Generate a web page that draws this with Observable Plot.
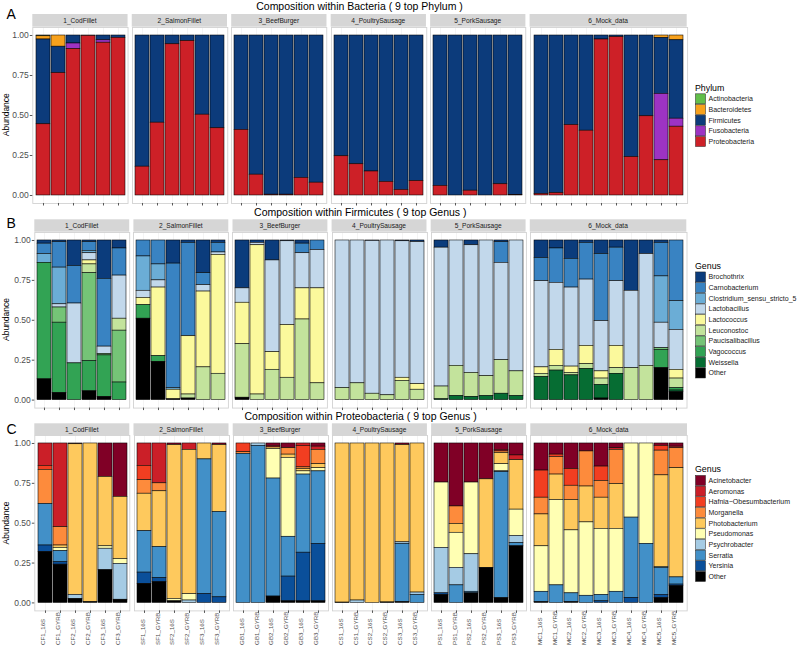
<!DOCTYPE html>
<html><head><meta charset="utf-8">
<script src="https://cdn.jsdelivr.net/npm/d3@7"></script>
<script src="https://cdn.jsdelivr.net/npm/@observablehq/plot@0.6"></script>
<style>
body{margin:0;background:#fff;font-family:"Liberation Sans",Arial,sans-serif;}
#root{position:relative;width:800px;height:656px;overflow:hidden;background:#fff;}
#root svg{position:absolute;}
</style></head>
<body><div id="root"></div>
<script>
// ---------- categories ----------
const groups = ["1_CodFillet","2_SalmonFillet","3_BeefBurger","4_PoultrySausage","5_PorkSausage","6_Mock_data"];
const codFillet = ["CF1_16S","CF1_GYRB","CF2_16S","CF2_GYRB","CF3_16S","CF3_GYRB"];
const salmonFillet = ["SF1_16S","SF1_GYRB","SF2_16S","SF2_GYRB","SF3_16S","SF3_GYRB"];
const beefBurger = ["GB1_16S","GB1_GYRB","GB2_16S","GB2_GYRB","GB3_16S","GB3_GYRB"];
const poultrySausage = ["CS1_16S","CS1_GYRB","CS2_16S","CS2_GYRB","CS3_16S","CS3_GYRB"];
const porkSausage = ["PS1_16S","PS1_GYRB","PS2_16S","PS2_GYRB","PS3_16S","PS3_GYRB"];
const mockData = ["MC1_16S","MC1_GYRB","MC2_16S","MC2_GYRB","MC3_16S","MC3_GYRB","MC4_16S","MC4_GYRB","MC5_16S","MC5_GYRB"];
const groupSamples = [codFillet, salmonFillet, beefBurger, poultrySausage, porkSausage, mockData];
const samples = groupSamples.flat();
const yTicks = [0, 0.25, 0.5, 0.75, 1];

// ---------- Panel A: phyla (legend order) ----------
const phyla = ["Actinobacteria","Bacteroidetes","Firmicutes","Fusobacteria","Proteobacteria"];
const phylumColors = ["#62be4a","#f7a11c","#0c3b7b","#9d33c3","#cd2027"];
const bacteriaShares = [
  [0.005,0.02,0.53,0,0.445],[0,0.07,0.165,0,0.765],[0,0,0.05,0.035,0.915],[0,0,0.002,0,0.998],[0,0,0.03,0.015,0.955],[0,0,0.015,0,0.985],
  [0,0,0.82,0,0.18],[0,0,0.545,0,0.455],[0,0,0.055,0,0.945],[0,0,0.035,0,0.965],[0,0,0.495,0,0.505],[0,0,0.58,0,0.42],
  [0,0,0.59,0,0.41],[0,0,0.87,0,0.13],[0,0,0.995,0,0.005],[0,0,0.995,0,0.005],[0,0,0.89,0,0.11],[0,0,0.92,0,0.08],
  [0,0,0.755,0,0.245],[0,0,0.805,0,0.195],[0,0,0.85,0,0.15],[0,0,0.915,0,0.085],[0,0,0.965,0,0.035],[0,0,0.91,0,0.09],
  [0,0,0.94,0,0.06],[0,0,1,0,0],[0,0,0.97,0,0.03],[0,0,1,0,0],[0,0,0.93,0,0.07],[0,0,0.997,0,0.003],
  [0,0,0.99,0,0.01],[0,0,0.985,0,0.015],[0,0,0.56,0,0.44],[0,0,0.595,0,0.405],[0,0,0.025,0,0.975],[0,0,0.01,0,0.99],
  [0,0,0.76,0,0.24],[0,0,0.505,0,0.495],[0,0.015,0.35,0.415,0.22],[0,0.03,0.49,0.05,0.43]
];

// ---------- Panel B: Firmicutes genera (legend order) ----------
const firmGenera = ["Brochothrix","Carnobacterium","Clostridium_sensu_stricto_5","Lactobacillus","Lactococcus","Leuconostoc","Paucisalibacillus","Vagococcus","Weissella","Other"];
const firmColors = ["#0b3c7c","#3983c2","#6badd6","#c2d8eb","#fbf99c","#c3e39c","#75c477","#32a354","#066d33","#000000"];
const firmicutesShares = [
  [0.02,0.065,0.055,0,0,0,0,0.73,0,0.13],
  [0.01,0.16,0.23,0.02,0,0,0.095,0.44,0,0.045],
  [0.16,0.235,0,0.375,0,0,0,0.23,0,0],
  [0.01,0.055,0.015,0.045,0.025,0.055,0.55,0.19,0,0.055],
  [0.24,0.425,0,0.045,0,0,0.01,0.26,0,0.02],
  [0.05,0.17,0,0.27,0,0.075,0.325,0.11,0,0],
  [0,0.10,0.215,0.045,0.045,0,0,0.085,0,0.51],
  [0,0.15,0.10,0.045,0.43,0,0,0.035,0,0.24],
  [0.145,0.78,0.01,0,0.06,0,0,0,0,0.005],
  [0.015,0.585,0,0,0.365,0.025,0,0,0,0.01],
  [0.205,0.075,0,0.04,0.475,0.205,0,0,0,0],
  [0.015,0.06,0,0.015,0.745,0.165,0,0,0,0],
  [0.30,0,0,0.09,0.26,0.335,0,0,0,0.015],
  [0.015,0,0,0.015,0.935,0.035,0,0,0,0],
  [0.125,0,0,0.575,0.11,0.19,0,0,0,0],
  [0.005,0,0,0.525,0.33,0.14,0,0,0,0],
  [0.02,0.06,0,0.22,0.195,0.505,0,0,0,0],
  [0,0.06,0,0.24,0.595,0.105,0,0,0,0],
  [0,0,0,0.925,0,0.075,0,0,0,0],
  [0,0,0,0.895,0,0.105,0,0,0,0],
  [0.003,0,0,0.957,0,0.04,0,0,0,0],
  [0,0,0,0.97,0,0.03,0,0,0,0],
  [0.005,0,0,0.855,0.02,0.12,0,0,0,0],
  [0.01,0,0,0.89,0.035,0.065,0,0,0,0],
  [0.045,0,0,0.87,0,0.08,0,0,0.005,0],
  [0,0,0,0.785,0,0.19,0,0,0.025,0],
  [0.03,0,0,0.80,0,0.15,0,0,0.02,0],
  [0,0,0,0.85,0,0.125,0,0,0.025,0],
  [0.01,0.13,0,0.61,0,0.21,0,0,0.04,0],
  [0,0,0,0.82,0,0.155,0,0,0.025,0],
  [0.11,0.145,0,0.54,0.04,0.02,0,0,0.145,0],
  [0.05,0.215,0,0.42,0.10,0.03,0,0,0.185,0],
  [0.115,0.18,0,0.495,0.04,0.015,0,0,0.155,0],
  [0.015,0.23,0,0.415,0.115,0.03,0,0,0.195,0],
  [0.085,0.42,0,0.315,0.045,0.04,0,0,0.085,0.01],
  [0.045,0.21,0,0.405,0.14,0.035,0,0,0.165,0],
  [0.315,0,0,0.485,0,0.20,0,0,0,0],
  [0.085,0,0,0.70,0,0.215,0,0,0,0],
  [0.015,0.21,0.29,0.16,0,0,0.01,0.115,0,0.20],
  [0,0.38,0.18,0.25,0.055,0.06,0,0.015,0.01,0.05]
];

// ---------- Panel C: Proteobacteria genera (legend order) ----------
const proteoGenera = ["Acinetobacter","Aeromonas","Hafnia\u2212Obesumbacterium","Morganella","Photobacterium","Pseudomonas","Psychrobacter","Serratia","Yersinia","Other"];
const proteoColors = ["#800026","#cb1f28","#f23e21","#fd8b3c","#fec95d","#ffffb3","#a5cbe4","#4290c8","#0a4f9a","#000000"];
const proteobacteriaShares = [
  [0,0.14,0.025,0.215,0,0,0,0.26,0.04,0.32],
  [0,0.525,0,0.115,0.015,0.02,0,0.07,0.015,0.24],
  [0.005,0,0,0,0.945,0,0.025,0,0,0.025],
  [0,0,0,0,0.995,0,0,0,0,0.005],
  [0.21,0,0,0,0.435,0.015,0.135,0,0,0.205],
  [0.335,0,0,0,0.39,0.03,0.225,0,0,0.02],
  [0,0.14,0.09,0.085,0.235,0,0,0.26,0.07,0.12],
  [0,0.25,0,0.05,0.35,0,0,0.195,0.025,0.13],
  [0.01,0,0,0,0.965,0.015,0,0,0,0.01],
  [0,0.04,0,0,0.905,0.04,0.015,0,0,0],
  [0,0,0,0,0.10,0,0,0.845,0.055,0],
  [0.01,0,0,0,0.42,0,0,0.535,0.035,0],
  [0,0,0.055,0.01,0,0,0,0.935,0,0],
  [0,0,0,0,0,0,0.015,0.985,0,0],
  [0.015,0.01,0,0,0.01,0.185,0,0.74,0,0.04],
  [0.03,0,0,0.04,0.02,0.495,0,0.25,0.155,0.01],
  [0,0.015,0.135,0.01,0.015,0.02,0,0.49,0.305,0.01],
  [0.02,0.02,0,0.09,0.025,0.02,0,0.455,0.36,0.01],
  [0,0,0,0,0.998,0,0,0,0,0.002],
  [0,0,0,0,0.985,0,0.015,0,0,0],
  [0,0,0,0,1,0,0,0,0,0],
  [0,0,0,0,0.997,0,0,0,0,0.003],
  [0.01,0,0,0,0.61,0,0.01,0.365,0,0.005],
  [0,0,0,0,0.935,0,0.015,0.05,0,0],
  [0.245,0,0,0,0,0.41,0.285,0,0.01,0.05],
  [0.395,0,0,0.11,0.055,0.22,0.11,0.11,0,0],
  [0.245,0,0,0,0,0.45,0.235,0.01,0,0.06],
  [0.225,0,0,0,0.555,0,0,0,0,0.22],
  [0.04,0.01,0,0.01,0.07,0.045,0.005,0.79,0,0.03],
  [0.075,0.03,0,0,0.31,0.165,0.045,0.02,0,0.355],
  [0.17,0,0.17,0.105,0.20,0.285,0,0.065,0,0.005],
  [0.07,0,0.015,0.11,0.16,0.535,0,0.11,0,0],
  [0.16,0,0.105,0.09,0.19,0.395,0,0.055,0,0.005],
  [0.05,0,0,0.22,0.225,0.46,0,0.045,0,0],
  [0.145,0,0.09,0.105,0.195,0.415,0,0.04,0.01,0],
  [0.03,0.01,0,0.215,0.28,0.395,0,0.07,0,0],
  [0,0,0,0,0,0.465,0,0.505,0.03,0],
  [0,0,0,0,0,0.63,0,0.37,0,0],
  [0.015,0,0.03,0.155,0.575,0.005,0,0.17,0.02,0.03],
  [0.02,0.01,0,0.125,0.685,0,0,0.045,0.01,0.105]
];

// ---------- layout ----------
const FONT = "Liberation Sans, Arial, Helvetica, sans-serif";
const panels = [
  {letter:"A", letterY:19.3, title:"Composition within Bacteria ( 9 top Phylum )", legendTitle:"Phylum",
   taxa:phyla, colors:phylumColors, shares:bacteriaShares, left:32.3, right:686.7, stripTop:14, panelTop:26.7, panelBottom:202.7, labels:false},
  {letter:"B", letterY:228.3, title:"Composition within Firmicutes ( 9 top Genus )", legendTitle:"Genus",
   taxa:firmGenera, colors:firmColors, shares:firmicutesShares, left:34.3, right:686.3, stripTop:219.3, panelTop:231.7, panelBottom:407.3, labels:false},
  {letter:"C", letterY:434.3, title:"Composition within Proteobacteria ( 9 top Genus )", legendTitle:"Genus",
   taxa:proteoGenera, colors:proteoColors, shares:proteobacteriaShares, left:34.3, right:687, stripTop:423.3, panelTop:435.3, panelBottom:610.7, labels:true}
];

const root = document.getElementById("root");
const overlay = d3.create("svg").attr("width", 800).attr("height", 656)
  .style("left", "0px").style("top", "0px").style("pointer-events", "none")
  .style("font-family", FONT);

const gap = 4.2, ext = 0.16;

panels.forEach(p => {
  const rows = [];
  samples.forEach((s, i) => p.taxa.forEach((t, j) => {
    const v = p.shares[i][j];
    if (v > 0) rows.push({sample: s, taxon: t, value: v});
  }));
  const units = groupSamples.map(g => g.length + ext);
  const unitPx = (p.right - p.left - gap * (groups.length - 1)) / d3.sum(units);
  const ph = p.panelBottom - p.panelTop;
  let x0 = p.left;
  groupSamples.forEach((gs, gi) => {
    const w = units[gi] * unitPx;
    const ml = gi === 0 ? p.left : 0;
    const mb = p.labels ? 42 : 4;
    const data = rows.filter(d => gs.includes(d.sample));
    const chart = Plot.plot({
      width: w + ml, height: ph + mb,
      marginLeft: ml, marginRight: 0, marginTop: 0, marginBottom: mb,
      style: {fontFamily: FONT, background: "transparent", overflow: "visible", color: "#333"},
      x: {domain: gs, paddingInner: 0.1, paddingOuter: 0.13, align: 0.5, axis: null},
      y: {domain: [-0.05, 1.05], axis: null},
      color: {domain: p.taxa, range: p.colors},
      marks: [
        Plot.frame({fill: "#ffffff", stroke: "none"}),
        Plot.ruleX(gs, {x: d => d, stroke: "#ececec", strokeWidth: 0.6}),
        Plot.barY(data, {x: "sample", y: "value", fill: "taxon", order: p.taxa.slice().reverse(),
                         stroke: "#000", strokeWidth: 0.55}),
        Plot.frame({stroke: "#d2d2d2", strokeWidth: 0.9}),
        Plot.axisX({tickSize: 2.5, tickFormat: () => "", label: null, stroke: "#555"}),
        gi === 0 ? Plot.axisY({ticks: yTicks, tickFormat: d3.format(".2f"), tickSize: 2.5, tickPadding: 1.5,
                               fontSize: 8.5, label: null, fill: "#4d4d4d", stroke: "#555"}) : null,
        p.labels ? Plot.text(gs, {x: d => d, frameAnchor: "bottom", rotate: -90, textAnchor: "start",
                                  dy: 34, fontSize: 6.2, fill: "#4d4d4d"}) : null
      ]
    });
    chart.style.left = (x0 - ml) + "px";
    chart.style.top = p.panelTop + "px";
    root.appendChild(chart);

    // facet strip
    overlay.append("rect").attr("x", x0).attr("y", p.stripTop).attr("width", w)
      .attr("height", p.panelTop - p.stripTop).attr("fill", "#d6d6d6");
    overlay.append("text").attr("x", x0 + w / 2).attr("y", (p.stripTop + p.panelTop) / 2 + 2.3)
      .attr("text-anchor", "middle").attr("font-size", 6.6).attr("fill", "#1a1a1a").text(groups[gi]);
    x0 += w + gap;
  });

  // title
  overlay.append("text").attr("x", (p.left + p.right) / 2).attr("y", p.stripTop - 3.6)
    .attr("text-anchor", "middle").attr("font-size", 10.5).attr("fill", "#000").text(p.title);
  // panel letter
  overlay.append("text").attr("x", 6.5).attr("y", p.letterY).attr("font-size", 14).attr("fill", "#000").text(p.letter);
  // y title
  const cy = (p.panelTop + p.panelBottom) / 2;
  overlay.append("text").attr("transform", `translate(9.3,${cy}) rotate(-90)`)
    .attr("text-anchor", "middle").attr("font-size", 8.5).attr("fill", "#000").text("Abundance");
  // legend
  const keyH = 10.67, titleH = 11;
  const top = cy - (titleH + p.taxa.length * keyH) / 2;
  overlay.append("text").attr("x", 695).attr("y", top + 8.3).attr("font-size", 8.8).attr("fill", "#000").text(p.legendTitle);
  p.taxa.forEach((t, i) => {
    const ky = top + titleH + i * keyH;
    overlay.append("rect").attr("x", 695.5).attr("y", ky + 0.3).attr("width", 10).attr("height", 10)
      .attr("fill", p.colors[i]).attr("stroke", "#222").attr("stroke-width", 0.5);
    overlay.append("text").attr("x", 708.5).attr("y", ky + 7.8).attr("font-size", 7).attr("fill", "#1a1a1a").text(t);
  });
});

root.appendChild(overlay.node());
</script>
</body></html>
